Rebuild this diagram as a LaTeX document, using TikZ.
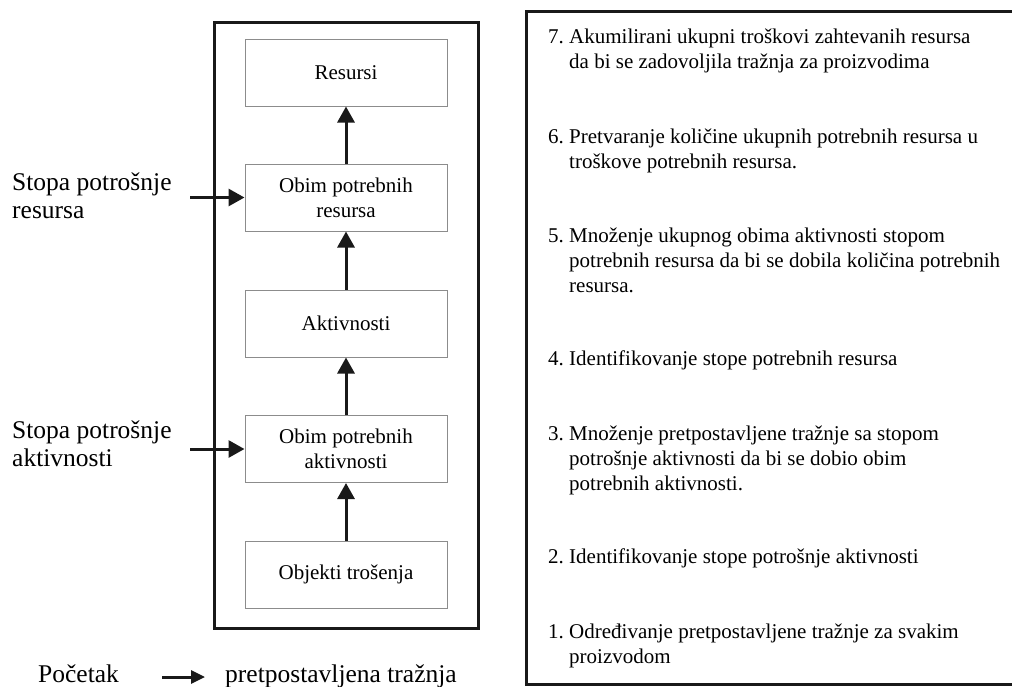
\documentclass[tikz,border=0pt]{standalone}
\usepackage{fontspec}
\setmainfont{Liberation Serif}
\usetikzlibrary{arrows.meta}
\newcommand\mylines[1]{\begin{tabular}[t]{@{}l@{}}#1\end{tabular}}
\newcommand\num[1]{\makebox[21pt][l]{#1}}
\newcommand\ind{\hspace*{21pt}}
\begin{document}
\begin{tikzpicture}[x=1pt,y=-1pt,
  frame/.style={draw=black!90, line width=3pt},
  box/.style={draw=black!45, line width=1pt, minimum width=202pt, minimum height=67pt, inner sep=0pt, align=center, font=\fontsize{21}{25}\selectfont},
  flow/.style={draw=black!90, line width=3pt, -{Triangle[length=16pt,width=17pt]}},
  small/.style={draw=black!90, line width=3pt, -{Triangle[length=14pt,width=13pt]}},
  side/.style={anchor=base west, inner sep=0pt, font=\fontsize{25.5}{28}\selectfont},
  itemtext/.style={anchor=base west, inner sep=0pt, font=\fontsize{21}{25}\selectfont}
]
\useasboundingbox (0,0) rectangle (1012,686);
% frames
\draw[frame] (214,22) rectangle (478,628);
\draw[frame] (526,11) rectangle (1030,684);
% boxes
\node[box] (res)   at (346,72.5)  {Resursi};
\node[box] (obres) at (346,197.5) {Obim potrebnih\\resursa};
\node[box] (akt)   at (346,323.5) {Aktivnosti};
\node[box] (obakt) at (346,449)   {Obim potrebnih\\aktivnosti};
\node[box] (obj)   at (346,574.5) {Objekti trošenja};
% vertical arrows
\draw[flow] (obj.north) -- (obakt.south);
\draw[flow] (obakt.north) -- (akt.south);
\draw[flow] (akt.north) -- (obres.south);
\draw[flow] (obres.north) -- (res.south);
% side labels
\node[side] (lres) at (12,190) {\mylines{Stopa potrošnje\\resursa}};
\node[side] (lakt) at (12,438) {\mylines{Stopa potrošnje\\aktivnosti}};
\coordinate (sres) at (190,197.5);
\coordinate (sakt) at (190,449);
\draw[flow] (sres) -- (obres.west);
\draw[flow] (sakt) -- (obakt.west);
% bottom
\node[side] (start) at (38,682) {Početak};
\node[side] (demand) at (225,682) {pretpostavljena tražnja};
\coordinate (ba) at (162,677);
\coordinate (bb) at (205,677);
\draw[small] (ba) -- (bb);
% right steps
\node[itemtext] (s7) at (548,43) {\mylines{\num{7.}Akumilirani ukupni troškovi zahtevanih resursa\\\ind da bi se zadovoljila tražnja za proizvodima}};
\node[itemtext] (s6) at (548,143) {\mylines{\num{6.}Pretvaranje količine ukupnih potrebnih resursa u\\\ind troškove potrebnih resursa.}};
\node[itemtext] (s5) at (548,242) {\mylines{\num{5.}Množenje ukupnog obima aktivnosti stopom\\\ind potrebnih resursa da bi se dobila količina potrebnih\\\ind resursa.}};
\node[itemtext] (s4) at (548,365) {\mylines{\num{4.}Identifikovanje stope potrebnih resursa}};
\node[itemtext] (s3) at (548,440) {\mylines{\num{3.}Množenje pretpostavljene tražnje sa stopom\\\ind potrošnje aktivnosti da bi se dobio obim\\\ind potrebnih aktivnosti.}};
\node[itemtext] (s2) at (548,563) {\mylines{\num{2.}Identifikovanje stope potrošnje aktivnosti}};
\node[itemtext] (s1) at (548,638) {\mylines{\num{1.}Određivanje pretpostavljene tražnje za svakim\\\ind proizvodom}};
\end{tikzpicture}
\end{document}
